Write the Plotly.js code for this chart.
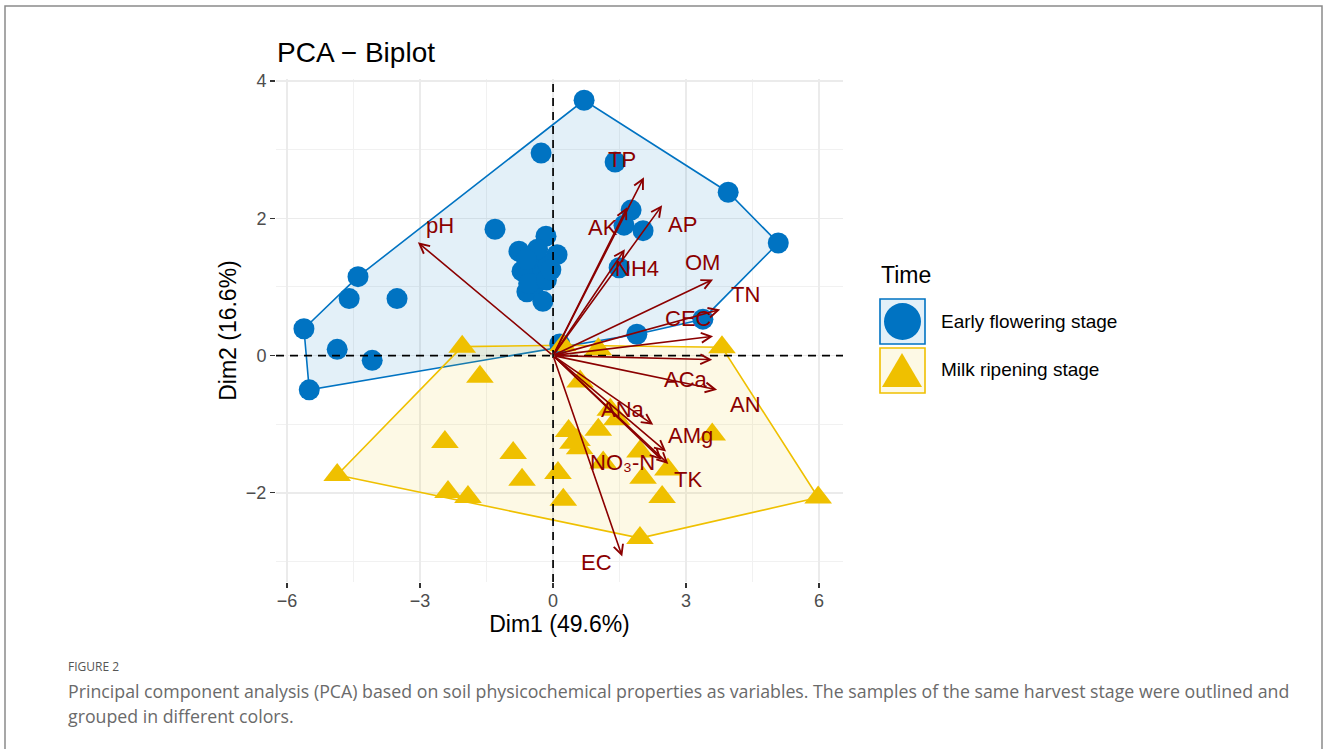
<!DOCTYPE html>
<html>
<head>
<meta charset="utf-8">
<script src="https://cdn.plot.ly/plotly-3.0.1.min.js"></script>
<style>
html,body{margin:0;padding:0;background:#fff;}
#chart{width:1328px;height:749px;}
</style>
</head>
<body>
<div id="chart"></div>
<script>
// ---- Data ----
const groupNames = ["Early flowering stage", "Milk ripening stage"];

const earlyX = [0.70, -0.27, 1.40, 1.76, 1.60, 2.03, 3.95, 5.08, -1.31, -0.16, -0.77, 0.09, -0.45, -0.52, -0.29, -0.59, -0.23, -0.11, -0.70, -0.40, -0.55, -0.35, -0.15, -0.05, -0.60, 1.49, 3.38, 1.89, 0.15, -4.40, -4.60, -3.52, -5.62, -4.87, -4.08, -5.50];
const earlyY = [3.72, 2.95, 2.82, 2.12, 1.90, 1.82, 2.38, 1.64, 1.84, 1.74, 1.52, 1.47, 1.40, 1.30, 1.15, 0.93, 0.79, 1.33, 1.23, 1.05, 1.05, 1.55, 1.10, 1.25, 1.40, 1.28, 0.53, 0.31, 0.17, 1.15, 0.83, 0.83, 0.39, 0.09, -0.07, -0.50];

const milkX = [-2.05, -1.65, -2.44, -0.90, -4.87, -2.37, -1.92, -0.70, 0.11, 0.23, 0.45, 0.61, 3.81, 3.59, 5.98, 1.96, 2.46, 2.59, 2.03, 1.96, 1.44, 1.29, 1.02, 0.54, 1.13, 0.22, 1.02, 0.35, 0.60];
const milkY = [0.13, -0.31, -1.26, -1.42, -1.74, -1.99, -2.06, -1.81, -1.71, -2.10, -1.27, -0.38, 0.12, -1.15, -2.07, -2.66, -2.06, -1.66, -1.78, -1.40, -0.93, -0.79, -1.08, -1.23, -1.56, 0.15, 0.09, -1.10, -1.35];

const varNames = ["pH", "TP", "AK", "AP", "NH4", "OM", "TN", "CEC", "ACa", "AN", "ANa", "AMg", "NO\u2083-N", "TK", "EC"];
const varX = [-3.05, 2.05, 1.67, 2.46, 1.62, 3.61, 3.77, 3.61, 3.70, 3.59, 2.26, 2.55, 2.45, 2.60, 1.56];
const varY = [1.65, 2.60, 2.16, 2.19, 1.55, 1.11, 0.67, 0.28, -0.50, -0.06, -1.01, -1.40, -1.52, -1.58, -2.93];
const labelX = [-2.55, 1.56, 1.13, 2.91, 1.89, 3.38, 4.33, 3.05, 3.00, 4.33, 1.58, 3.09, 1.56, 3.05, 0.97];
const labelY = [1.89, 2.85, 1.86, 1.91, 1.27, 1.35, 0.89, 0.54, -0.35, -0.72, -0.79, -1.17, -1.56, -1.81, -3.02];

const xTicks = [-6, -3, 0, 3, 6];
const yTicks = [-2, 0, 2, 4];

// ---- Styling ----
const BLUE = "#0073C2", YELLOW = "#EFC000", DARKRED = "#8B0000";
const FONT = "Liberation Sans, Arial, Helvetica, sans-serif";
const W = 1328, H = 749;
const M = {l: 276, r: 485, t: 79, b: 167};
const PW = W - M.l - M.r, PH = H - M.t - M.b;
const px = x => (x - M.l) / PW;
const py = y => (H - M.b - y) / PH;

function convexHull(xs, ys) {
  const pts = xs.map((x, i) => [x, ys[i]]).sort((a, b) => a[0] - b[0] || a[1] - b[1]);
  const cross = (o, a, b) => (a[0] - o[0]) * (b[1] - o[1]) - (a[1] - o[1]) * (b[0] - o[0]);
  const lower = [], upper = [];
  for (const p of pts) { while (lower.length >= 2 && cross(lower[lower.length-2], lower[lower.length-1], p) <= 0) lower.pop(); lower.push(p); }
  for (let i = pts.length - 1; i >= 0; i--) { const p = pts[i]; while (upper.length >= 2 && cross(upper[upper.length-2], upper[upper.length-1], p) <= 0) upper.pop(); upper.push(p); }
  const h = lower.slice(0, -1).concat(upper.slice(0, -1));
  h.push(h[0]);
  return {x: h.map(p => p[0]), y: h.map(p => p[1])};
}

const hE = convexHull(earlyX, earlyY);
const hM = convexHull(milkX, milkY);

const traces = [
  {x: hE.x, y: hE.y, type: "scatter", mode: "lines", fill: "toself", fillcolor: "rgba(0,115,194,0.11)", line: {color: BLUE, width: 1.6}, hoverinfo: "skip", showlegend: false},
  {x: hM.x, y: hM.y, type: "scatter", mode: "lines", fill: "toself", fillcolor: "rgba(239,192,0,0.1)", line: {color: YELLOW, width: 1.6}, hoverinfo: "skip", showlegend: false},
  {x: earlyX, y: earlyY, type: "scatter", mode: "markers", name: groupNames[0], marker: {symbol: "circle", size: 21, color: BLUE}, showlegend: false},
  {x: milkX, y: milkY, type: "scatter", mode: "markers", name: groupNames[1], marker: {symbol: "triangle-up", size: 24, color: YELLOW}, showlegend: false}
];

const annotations = [];
varNames.forEach((n, i) => {
  annotations.push({x: varX[i], y: varY[i], xref: "x", yref: "y", ax: 0, ay: 0, axref: "x", ayref: "y",
    text: "", showarrow: true, arrowhead: 5, arrowsize: 1.2, arrowwidth: 1.6, arrowcolor: DARKRED, standoff: 0, startstandoff: 0});
});
varNames.forEach((n, i) => {
  annotations.push({x: labelX[i], y: labelY[i], xref: "x", yref: "y", text: n, showarrow: false,
    font: {family: FONT, size: 22, color: DARKRED}, xanchor: "center", yanchor: "middle"});
});

// Legend (drawn manually)
annotations.push({x: px(879), y: py(275), xref: "paper", yref: "paper", text: "Time", showarrow: false, xanchor: "left", yanchor: "middle", font: {family: FONT, size: 23, color: "#000"}});
annotations.push({x: px(939), y: py(321), xref: "paper", yref: "paper", text: groupNames[0], showarrow: false, xanchor: "left", yanchor: "middle", font: {family: FONT, size: 19, color: "#000"}});
annotations.push({x: px(939), y: py(369), xref: "paper", yref: "paper", text: groupNames[1], showarrow: false, xanchor: "left", yanchor: "middle", font: {family: FONT, size: 19, color: "#000"}});

// Caption
annotations.push({x: px(66), y: py(666), xref: "paper", yref: "paper", text: "FIGURE 2", showarrow: false, xanchor: "left", yanchor: "middle", font: {family: "Open Sans, sans-serif", size: 12, color: "#555"}});
annotations.push({x: px(66), y: py(691), xref: "paper", yref: "paper", text: "Principal component analysis (PCA) based on soil physicochemical properties as variables. The samples of the same harvest stage were outlined and", showarrow: false, xanchor: "left", yanchor: "middle", font: {family: "Open Sans, sans-serif", size: 17.75, color: "#6a6a6a"}});
annotations.push({x: px(66), y: py(716), xref: "paper", yref: "paper", text: "grouped in different colors.", showarrow: false, xanchor: "left", yanchor: "middle", font: {family: "Open Sans, sans-serif", size: 17.75, color: "#6a6a6a"}});

const shapes = [
  // zero reference lines
  {type: "line", xref: "x", yref: "paper", x0: 0, x1: 0, y0: 0, y1: 1, line: {color: "#000", width: 1.7, dash: "8px,6px"}},
  {type: "line", xref: "paper", yref: "y", x0: 0, x1: 1, y0: 0, y1: 0, line: {color: "#000", width: 1.7, dash: "8px,6px"}},
  // legend keys
  {type: "rect", xref: "paper", yref: "paper", x0: px(880), x1: px(925), y0: py(344), y1: py(299), fillcolor: "rgba(0,115,194,0.11)", line: {color: BLUE, width: 1.6}},
  {type: "circle", xref: "paper", yref: "paper", x0: px(884), x1: px(921), y0: py(340), y1: py(303), fillcolor: BLUE, line: {width: 0}},
  {type: "rect", xref: "paper", yref: "paper", x0: px(880), x1: px(925), y0: py(393), y1: py(348), fillcolor: "rgba(239,192,0,0.1)", line: {color: YELLOW, width: 1.6}},
  {type: "path", xref: "paper", yref: "paper", path: `M ${px(882)},${py(387)} L ${px(922)},${py(387)} L ${px(902)},${py(353)} Z`, fillcolor: YELLOW, line: {width: 0}},
  // outer frame
  {type: "rect", xref: "paper", yref: "paper", x0: px(5), x1: px(1322), y0: py(760), y1: py(6), line: {color: "#8a8a8a", width: 1.5}, fillcolor: "rgba(0,0,0,0)"}
];

const axisCommon = {
  showline: false, zeroline: false, ticks: "outside", ticklen: 5, tickwidth: 1.3, tickcolor: "#333",
  gridcolor: "#EBEBEB", gridwidth: 1.5,
  tickfont: {family: FONT, size: 18, color: "#4D4D4D"}
};

const layout = {
  width: W, height: H,
  margin: M,
  paper_bgcolor: "#fff", plot_bgcolor: "#fff",
  font: {family: FONT},
  title: {text: "PCA \u2212 Biplot", x: 277 / W, xanchor: "left", xref: "container", y: 1 - 52 / H, yanchor: "middle", yref: "container", font: {family: FONT, size: 28, color: "#000"}},
  xaxis: Object.assign({}, axisCommon, {
    range: [-6.25, 6.54], tickvals: xTicks, ticktext: xTicks.map(v => v < 0 ? "\u2212" + Math.abs(v) : String(v)),
    ticklabelstandoff: -3,
    minor: {showgrid: true, dtick: 1.5, tick0: 0, gridcolor: "#F1F1F1", gridwidth: 1},
    title: {text: "Dim1 (49.6%)", font: {family: FONT, size: 23, color: "#000"}, standoff: 0}
  }),
  yaxis: Object.assign({}, axisCommon, {
    range: [-3.30, 4.03], tickvals: yTicks, ticktext: yTicks.map(v => v < 0 ? "\u2212" + Math.abs(v) : String(v)),
    minor: {showgrid: true, dtick: 1, tick0: 0, gridcolor: "#F1F1F1", gridwidth: 1},
    title: {text: "Dim2 (16.6%)", font: {family: FONT, size: 23, color: "#000"}, standoff: 2}
  }),
  shapes: shapes,
  annotations: annotations,
  showlegend: false
};

Plotly.newPlot("chart", traces, layout, {staticPlot: true, displayModeBar: false});
</script>
</body>
</html>
